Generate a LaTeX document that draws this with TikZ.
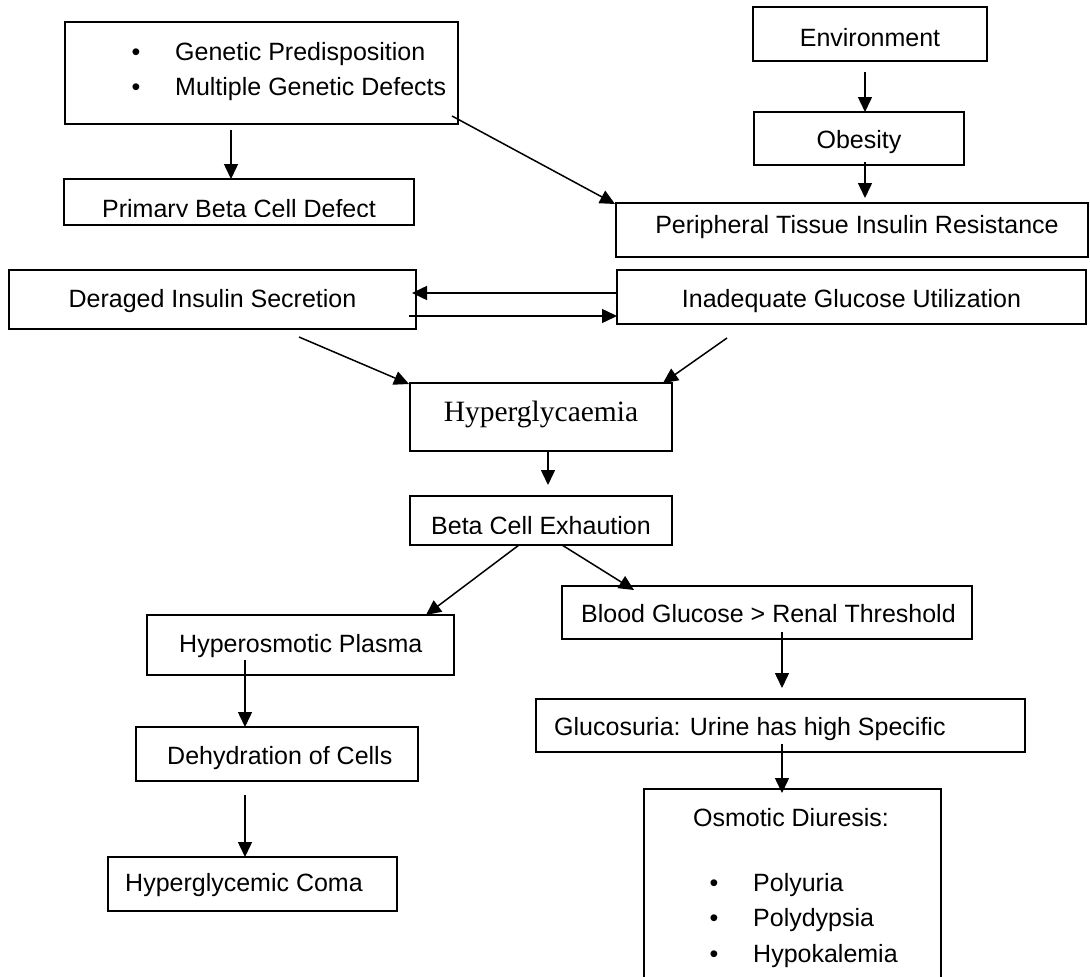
\documentclass[tikz,border=0pt]{standalone}
\usepackage{fontspec}
\setmainfont{Liberation Sans}
\newfontfamily\serifface{Liberation Serif}
\usetikzlibrary{arrows.meta,calc}
\begin{document}
\begin{tikzpicture}[x=1pt,y=-1pt,
  box/.style={draw, line width=1.7pt, rectangle, inner sep=0pt, outer sep=0pt, anchor=north west},
  txt/.style={anchor=base, inner sep=0pt, font=\fontsize{25}{30}\selectfont},
  txtw/.style={txt, anchor=base west},
  arr/.style={line width=1.5pt, -{Triangle[length=15pt,width=14pt]}}]
\clip (0,0) rectangle (1090,977);
\fill[white] (0,0) rectangle (1090,977);
% boxes
\node[box, minimum width=393pt, minimum height=102pt] (gen) at (65,22) {};
\node[box, minimum width=234pt, minimum height=54pt] (env) at (753,7) {};
\node[box, minimum width=210pt, minimum height=53pt] (obe) at (754,112) {};
\node[box, minimum width=350pt, minimum height=46pt] (pri) at (64,179) {};
\node[box, minimum width=472pt, minimum height=54pt] (per) at (616,203) {};
\node[box, minimum width=407pt, minimum height=59pt] (der) at (9,270) {};
\node[box, minimum width=469pt, minimum height=54pt] (ina) at (617,270) {};
\node[box, minimum width=262pt, minimum height=68pt] (hyp) at (410,383) {};
\node[box, minimum width=262pt, minimum height=49pt] (bet) at (410,496) {};
\node[box, minimum width=307pt, minimum height=60pt] (hos) at (147,615) {};
\node[box, minimum width=410pt, minimum height=53pt] (blo) at (562,586) {};
\node[box, minimum width=282pt, minimum height=54pt] (deh) at (136,727) {};
\node[box, minimum width=489pt, minimum height=53pt] (glu) at (536,699) {};
\node[box, minimum width=289pt, minimum height=54pt] (com) at (108,857) {};
\node[box, minimum width=297pt, minimum height=210pt] (osm) at (644,789) {};
% texts
\node[txt] (b1) at (136,60) {\textbullet};
\node[txtw] (t1) at (175,60) {Genetic Predisposition};
\node[txt] (b2) at (136,95) {\textbullet};
\node[txtw] (t2) at (175,95) {Multiple Genetic Defects};
\node[txt] (tenv) at (870,46) {Environment};
\node[txt] (tobe) at (859,148) {Obesity};
\begin{scope}
\clip (64,179) rectangle (414,216.5);
\node[txt] (tpri) at (239,217) {Primary Beta Cell Defect};
\end{scope}
\node[txt] (tper) at (857,233) {Peripheral Tissue Insulin Resistance};
\node[txt] (tder) at (212.5,307) {Deraged Insulin Secretion};
\node[txt] (tina) at (851.5,307) {Inadequate Glucose Utilization};
\node[txt, font=\serifface\fontsize{29.5}{34}\selectfont] (thyp) at (541,421) {Hyperglycaemia};
\begin{scope}
\clip (410,496) rectangle (672,533.5);
\node[txt] (tbet) at (541,534) {Beta Cell Exhaution};
\end{scope}
\node[txtw] (thos) at (179,652) {Hyperosmotic Plasma};
\node[txtw] (tblo) at (581,622) {Blood Glucose > Renal Threshold};
\node[txtw] (tdeh) at (167,764) {Dehydration of Cells};
\node[txtw] (tglu) at (554,735) {Glucosuria: Urine has high Specific};
\node[txtw] (tcom) at (125,891) {Hyperglycemic Coma};
\node[txt] (tosm) at (791,826) {Osmotic Diuresis:};
\node[txt] (b3) at (714,891) {\textbullet};
\node[txtw] (t3) at (753,891) {Polyuria};
\node[txt] (b4) at (714,926) {\textbullet};
\node[txtw] (t4) at (753,926) {Polydypsia};
\node[txt] (b5) at (714,962) {\textbullet};
\node[txtw] (t5) at (753,962) {Hypokalemia};
% connector start points
\coordinate (s1) at (231,130);
\coordinate (s2) at (452,116);
\coordinate (s3) at (865,72);
\coordinate (s4) at (865,162);
\coordinate (s5) at (0,293);
\coordinate (s6) at (409,316);
\coordinate (s7) at (299,337);
\coordinate (s8) at (727,338);
\coordinate (s9) at (548,451);
\coordinate (s10) at (519,545);
\coordinate (s11) at (562,545);
\coordinate (s12) at (782,632);
\coordinate (s13) at (782,744);
\coordinate (s14) at (245,660);
\coordinate (s15) at (245,795);
% connectors
\draw[arr] (s1) -- (s1 |- pri.north);
\draw[arr] (s2) -- ($(per.north west)+(-1,1)$);
\draw[arr] (s3) -- (s3 |- obe.north);
\draw[arr, shorten >=5pt] (s4) -- (s4 |- per.north);
\draw[arr, shorten >=-4pt] (s5 -| ina.west) -- (s5 -| der.east);
\draw[arr] (s6) -- (s6 -| ina.west);
\draw[arr] (s7) -- ($(hyp.north west)+(-1,1)$);
\draw[arr] (s8) -- ($(hyp.north east)+(-9,0)$);
\draw[arr, shorten >=11pt] (s9) -- (s9 |- bet.north);
\draw[arr] (s10) -- ($(hos.north)+(125.5,0)$);
\draw[arr] (s11) -- ($(blo.north west)+(72,4)$);
\draw[arr, shorten >=11pt] (s12) -- (s12 |- glu.north);
\draw[arr, shorten >=-4pt] (s13) -- (s13 |- osm.north);
\draw[arr] (s14) -- (s14 |- deh.north);
\draw[arr] (s15) -- (s15 |- com.north);
\end{tikzpicture}
\end{document}
